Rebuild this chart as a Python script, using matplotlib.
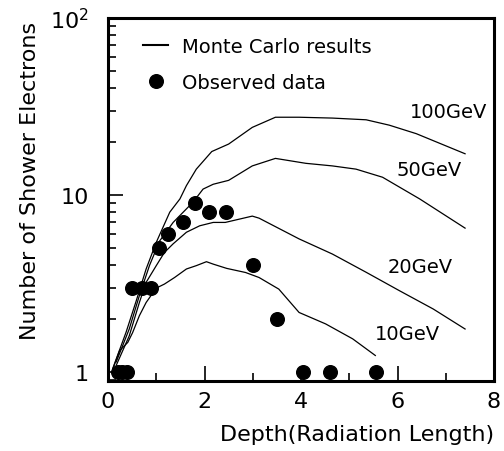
#! /usr/bin/python

# Perfil longitudinal de la cascada electromagnetica
# Monte Carlo vs datos observados

import matplotlib
matplotlib.use('Agg')
import matplotlib.pyplot as plt
from matplotlib.lines import Line2D
from matplotlib.ticker import LogLocator, NullFormatter, MultipleLocator

# Curvas Monte Carlo
x100 = [0.1, 0.375, 0.58, 0.79, 1.0, 1.28, 1.49, 1.625, 1.83, 2.15, 2.5, 2.99, 3.47, 3.96, 4.65, 5.35, 5.83, 6.39, 7.4]
y100 = [1.05, 1.68, 2.5, 3.82, 5.4, 8.0, 9.5, 11.3, 14.0, 17.6, 19.4, 24.1, 27.5, 27.5, 27.2, 26.6, 24.8, 22.2, 17.1]

x50 = [0.17, 0.44, 0.65, 0.86, 1.07, 1.35, 1.76, 1.97, 2.18, 2.5, 2.99, 3.47, 4.10, 4.65, 5.14, 5.69, 6.46, 7.4]
y50 = [1.14, 1.75, 2.7, 4.0, 5.5, 7.0, 9.1, 10.8, 11.5, 12.1, 14.6, 16.1, 15.1, 14.6, 14.0, 12.6, 9.5, 6.5]

x20 = [0.17, 0.44, 0.65, 0.79, 1.0, 1.17, 1.35, 1.625, 1.90, 2.18, 2.43, 2.99, 3.13, 3.96, 4.65, 5.35, 6.04, 6.74, 7.4]
y20 = [1.09, 1.6, 2.47, 3.21, 3.99, 4.74, 5.3, 6.16, 6.7, 7.0, 7.0, 7.6, 7.4, 5.65, 4.64, 3.66, 2.88, 2.27, 1.75]

x10 = [0.1, 0.24, 0.41, 0.51, 0.65, 0.79, 1.0, 1.17, 1.38, 1.625, 1.83, 2.04, 2.18, 2.46, 2.85, 3.13, 3.54, 3.96, 4.51, 5.07, 5.54]
y10 = [1.04, 1.32, 1.47, 1.67, 2.08, 2.47, 2.98, 3.14, 3.42, 3.82, 3.99, 4.2, 4.07, 3.85, 3.65, 3.42, 2.94, 2.17, 1.87, 1.54, 1.24]

# Datos observados
x_obs = [0.2, 0.3, 0.4, 0.5, 0.7, 0.9, 1.05, 1.25, 1.55, 1.8, 2.1, 2.45, 3.0, 3.5, 4.05, 4.6, 5.55]
y_obs = [1, 1, 1, 3, 3, 3, 5, 6, 7, 9, 8, 8, 4, 2, 1, 1, 1]

# Etiquetas de las curvas: (texto, x, y)
etiquetas = [('100GeV', 6.25, 29.8), ('50GeV', 5.98, 14.0),
	('20GeV', 5.79, 3.97), ('10GeV', 5.54, 1.64)]

plt.rcParams['font.family'] = ['DejaVu Sans']

fig = plt.figure(figsize=(5.04, 4.52), dpi=100)
ax = fig.add_axes([0.2143, 0.1549, 0.7659, 0.8031])

for (xs, ys) in [(x100, y100), (x50, y50), (x20, y20), (x10, y10)]:
	ax.plot(xs, ys, color='black', lw=0.9)

ax.plot(x_obs, y_obs, 'o', color='black', ms=9.8, ls='none')

for (txt, xe, ye) in etiquetas:
	ax.text(xe, ye, txt, fontsize=14, ha='left', va='center')

ax.set_yscale('log')
ax.set_xlim(0, 8)
ax.set_ylim(0.89, 100)

# Ejes
ax.set_xticks([0, 2, 4, 6, 8])
ax.xaxis.set_minor_locator(MultipleLocator(1))
ax.set_yticks([1, 10, 100], labels=['1', '10', r'$\mathregular{10^2}$'])
ax.yaxis.set_minor_locator(LogLocator(base=10, subs=range(2, 10)))
ax.yaxis.set_minor_formatter(NullFormatter())

ax.tick_params(which='both', direction='in', top=False, right=False, width=1.2)
ax.tick_params(which='major', length=11, labelsize=16)
ax.tick_params(which='minor', length=5.5)
ax.tick_params(axis='y', pad=14)
ax.tick_params(axis='x', pad=7)

for s in ax.spines.values():
	s.set_linewidth(2.2)

ax.set_xlabel('Depth(Radiation Length)', fontsize=16, ha='right')
ax.xaxis.set_label_coords(1.0, -0.118)
ax.set_ylabel('Number of Shower Electrons', fontsize=16, ha='right')
ax.yaxis.set_label_coords(-0.176, 0.992)

# Leyenda
handles = [
	Line2D([], [], color='black', lw=1.5),
	Line2D([], [], marker='o', color='black', ms=9.8, ls='none'),
]
ax.legend(handles, ['Monte Carlo results', 'Observed data'], loc='upper left',
	bbox_to_anchor=(0.0907, 0.947), frameon=False, fontsize=14,
	borderpad=0, borderaxespad=0, handlelength=1.29, handletextpad=0.72,
	labelspacing=0.85)

fig.savefig('out.png', dpi=100)
